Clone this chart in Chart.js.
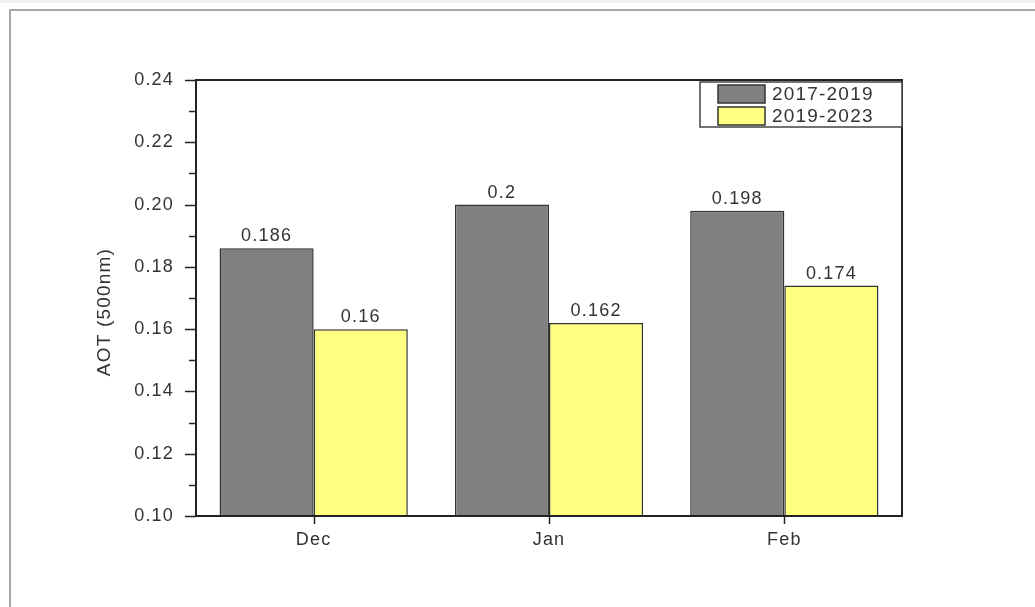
<!DOCTYPE html>
<html lang="en">
<head>
  <meta charset="UTF-8" />
  <title>AOT (500nm) by month</title>
  <script src="https://cdn.jsdelivr.net/npm/chart.js"></script>
  <style>
    body {
      margin: 0;
      background: #fff;
      font-family: 'Liberation Sans', Arial, sans-serif;
    }

    .strip {
      position: absolute;
      left: 0;
      top: 0;
      width: 1035px;
      height: 3px;
      background: #f0f0f0;
    }

    .frame {
      position: absolute;
      left: 9px;
      top: 9px;
      width: 1040px;
      height: 620px;
      border-left: 2px solid #a8a8a8;
      border-top: 2px solid #a8a8a8;
    }

    #wrap {
      position: absolute;
      left: 0;
      top: 0;
      width: 1035px;
      height: 607px;
    }
  </style>
</head>
<body>
  <div class="strip"></div>
  <div class="frame"></div>
  <div id="wrap"><canvas id="chart" width="1035" height="607"></canvas></div>

  <script>
    // data
    const months = ['Dec', 'Jan', 'Feb'];
    const seriesNames = ['2017-2019', '2019-2023'];
    const aot1719 = [0.186, 0.2, 0.198];
    const aot1923 = [0.16, 0.162, 0.174];
    const yMin = 0.10, yMax = 0.24, yStep = 0.02, yMinor = 0.01;
    const yTitle = 'AOT (500nm)';

    const FONT = '"Liberation Sans", Arial, sans-serif';
    const TEXT = '#333';

    // frame, tick marks, bar values, axis title and legend
    const decor = {
      id: 'decor',
      beforeDraw(chart) {
        chart.ctx.letterSpacing = '1.2px';
      },
      afterDatasetsDraw(chart) {
        const { ctx, chartArea: a, scales: { x, y } } = chart;
        ctx.save();

        // values over the bars
        ctx.font = '18px ' + FONT;
        ctx.fillStyle = TEXT;
        ctx.textAlign = 'center';
        ctx.textBaseline = 'bottom';
        chart.data.datasets.forEach((ds, i) => {
          chart.getDatasetMeta(i).data.forEach((bar, j) => {
            ctx.fillText(String(ds.data[j]), bar.x, bar.y - 3);
          });
        });

        // plot frame
        ctx.strokeStyle = '#222';
        ctx.lineWidth = 2;
        ctx.strokeRect(a.left, a.top, a.width, a.height);

        // y ticks: major every 0.02, minor in between
        ctx.lineWidth = 1.5;
        const n = Math.round((yMax - yMin) / yMinor);
        for (let k = 0; k <= n; k++) {
          const py = Math.round(y.getPixelForValue(yMin + k * yMinor)) + 0.5;
          const len = k % 2 === 0 ? 11 : 7;
          ctx.beginPath();
          ctx.moveTo(a.left - len, py);
          ctx.lineTo(a.left, py);
          ctx.stroke();
        }

        // x ticks at category centres
        months.forEach((m, i) => {
          const px = Math.round(x.getPixelForValue(i)) + 0.5;
          ctx.beginPath();
          ctx.moveTo(px, a.bottom);
          ctx.lineTo(px, a.bottom + 8);
          ctx.stroke();
        });

        // y axis title
        ctx.font = '19px ' + FONT;
        ctx.textAlign = 'center';
        ctx.textBaseline = 'middle';
        ctx.save();
        ctx.translate(105, (a.top + a.bottom) / 2 + 14);
        ctx.rotate(-Math.PI / 2);
        ctx.fillText(yTitle, 0, 0);
        ctx.restore();

        // legend box in the top right corner
        ctx.font = '19px ' + FONT;
        const lx = a.right - 202, ly = a.top + 2;
        ctx.fillStyle = '#fff';
        ctx.fillRect(lx, ly, 202, 45);
        ctx.strokeStyle = '#444';
        ctx.lineWidth = 1.5;
        ctx.strokeRect(lx, ly, 202, 45);
        ctx.textAlign = 'left';
        chart.data.datasets.forEach((ds, i) => {
          const sy = ly + 3 + i * 22;
          ctx.fillStyle = ds.backgroundColor;
          ctx.fillRect(lx + 18, sy, 47, 18);
          ctx.strokeStyle = '#333';
          ctx.strokeRect(lx + 18, sy, 47, 18);
          ctx.fillStyle = TEXT;
          ctx.fillText(ds.label, lx + 72, sy + 10);
        });

        ctx.restore();
      }
    };

    new Chart(document.getElementById('chart'), {
      type: 'bar',
      data: {
        labels: months,
        datasets: [
          { label: seriesNames[0], data: aot1719, backgroundColor: '#808080', borderColor: '#333', borderWidth: 1.5 },
          { label: seriesNames[1], data: aot1923, backgroundColor: '#ffff80', borderColor: '#333', borderWidth: 1.5 }
        ]
      },
      options: {
        responsive: false,
        animation: false,
        datasets: { bar: { barPercentage: 1, categoryPercentage: 0.8 } },
        layout: { padding: { left: 96, right: 133, top: 80, bottom: 51 } },
        plugins: { legend: { display: false }, tooltip: { enabled: false } },
        scales: {
          x: {
            grid: { display: false },
            border: { display: false },
            ticks: { color: TEXT, font: { family: FONT, size: 18 }, padding: 5, maxRotation: 0 },
            afterFit: s => { s.height = 40; }
          },
          y: {
            min: yMin,
            max: yMax,
            grid: { display: false },
            border: { display: false },
            ticks: {
              stepSize: yStep,
              color: TEXT,
              font: { family: FONT, size: 18 },
              padding: 14,
              callback: v => v.toFixed(2)
            },
            afterFit: s => { s.width = 100; }
          }
        }
      },
      plugins: [decor]
    });
  </script>
</body>
</html>
